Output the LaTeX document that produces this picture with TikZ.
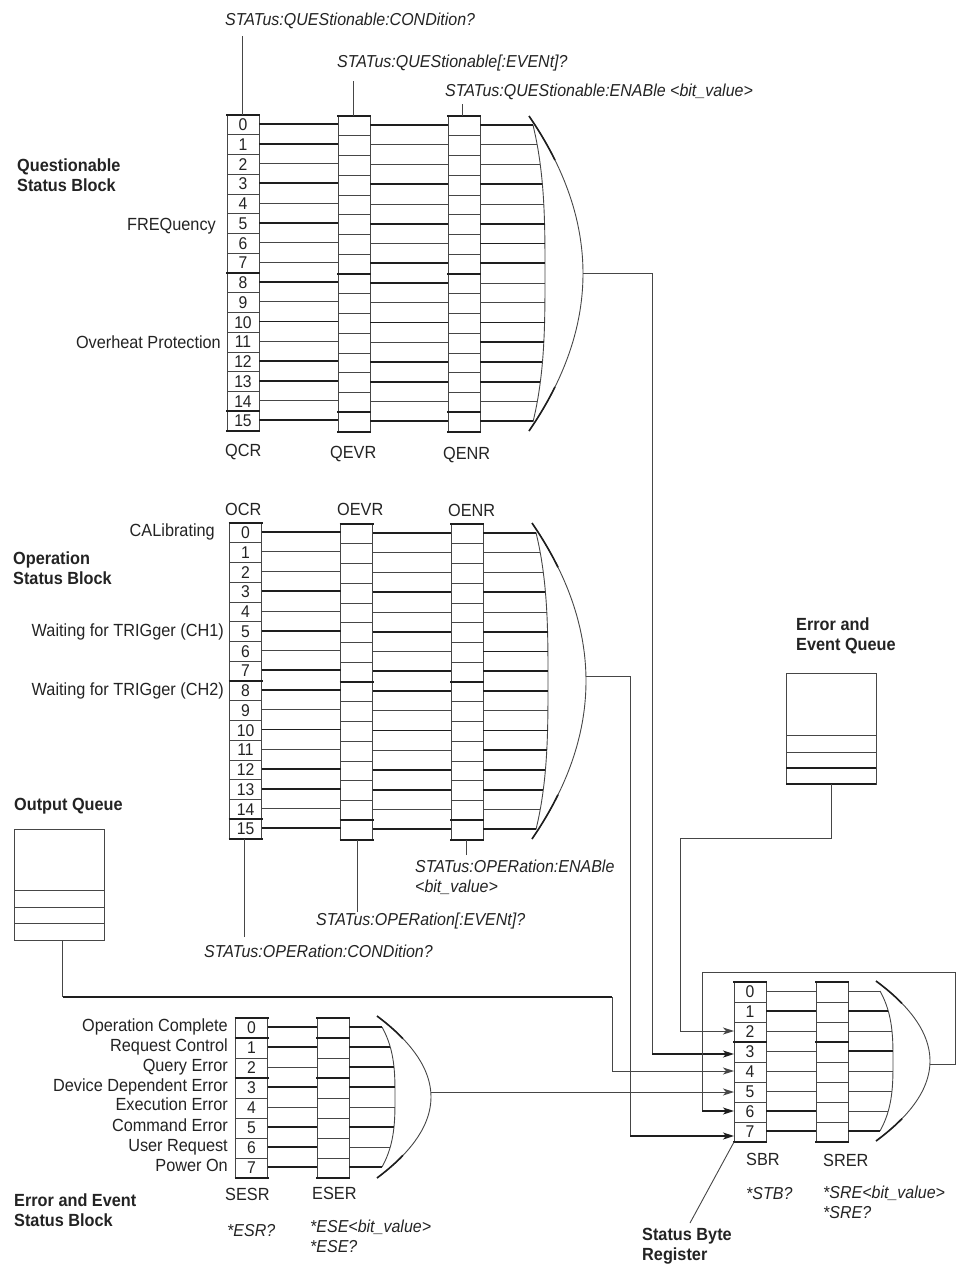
\documentclass[tikz,border=0pt]{standalone}
\usepackage{fontspec}
\setmainfont[FakeStretch=0.925]{Liberation Sans}
\usetikzlibrary{arrows.meta,positioning}
\definecolor{wireGray}{RGB}{70,70,70}
\definecolor{wireDark}{RGB}{30,30,30}
\definecolor{textDark}{RGB}{35,35,35}
\tikzset{
  bit/.style={draw=wireGray, line width=0.9pt, minimum width=32pt, inner sep=0pt, outer sep=0pt,
    text=textDark, font=\fontsize{17}{20}\selectfont},
  slot/.style={draw=wireGray, line width=0.9pt, minimum width=90pt, inner sep=0pt, outer sep=0pt},
  wire/.style={wireGray, line width=0.9pt},
  wirethick/.style={wireDark, line width=1.6pt},
  tip/.style={-{Stealth[length=11pt,width=7pt,inset=3pt]}},
  lbl/.style={inner sep=0pt, align=left, text=textDark, font=\fontsize{17.6}{20}\selectfont},
  cmd/.style={lbl, font=\fontsize{17.3}{20}\selectfont\itshape},
  blk/.style={lbl, font=\fontsize{17.6}{20}\selectfont\bfseries}
}
% column of register cells
\newcommand{\regcol}[6]{%
  \foreach \i in {0,...,#4}
    \node[bit, minimum height=#5pt] (#1\i) at (#2,{#3+#5*(\i+0.5)}) {#6};
}
% heavy cell borders: top of the first cell, bottom of the listed ones
\newcommand{\bars}[2]{%
  \draw[wirethick] ([xshift=-1pt]#10.north west) -- ([xshift=1pt]#10.north east);
  \foreach \i in {#2}
    \draw[wirethick] ([xshift=-1pt]#1\i.south west) -- ([xshift=1pt]#1\i.south east);
}
% wires between two columns, thin first, then the heavy ones over them
\newcommand{\wires}[5]{%
  \foreach \i in {0,...,#4}
    \draw[wire] ([yshift=0.9pt]#1\i.east) -- ([yshift=0.9pt]#1\i.east -| #2\i#3);
  \foreach \i in {#5}
    \draw[wirethick] ([yshift=0.9pt]#1\i.east) -- ([yshift=0.9pt]#1\i.east -| #2\i#3);
}
% gate: name, last row, mid y, back half height, back apex, back sag, front half height, front apex
\newcommand{\orgate}[8]{%
  \foreach \i in {0,...,#2}
    \coordinate (#1\i) at ({#5-#6*abs(2*\i/#2-1)*(2*\i/#2-1)*(2*\i/#2-1)},{#3+#4*(2*\i/#2-1)});
  \draw[wire] plot[smooth,domain=-1:1,samples=25] ({#5-#6*abs(\x)*\x*\x},{#3+#4*\x});
  \draw[wire] plot[smooth,domain=-1:1,samples=25] ({#8-54*\x*\x},{#3+#7*\x});
  \draw[wirethick] plot[smooth,domain=-1:-0.72,samples=6] ({#8-54*\x*\x},{#3+#7*\x});
  \draw[wirethick] plot[smooth,domain=0.72:1,samples=6] ({#8-54*\x*\x},{#3+#7*\x});
}
\begin{document}
\begin{tikzpicture}[x=1pt,y=-1pt]
  \useasboundingbox (0,0) rectangle (959,1264);
  % Questionable status block
  \regcol{qcr}{243}{115}{15}{19.75}{\i}
  \regcol{qevr}{354}{116}{15}{19.75}{}
  \regcol{qenr}{464}{116}{15}{19.75}{}
  \bars{qcr}{7,14,15}
  \bars{qevr}{7,14,15}
  \bars{qenr}{7,14,15}
  \orgate{qg}{15}{273.5}{148.5}{545}{12}{157.5}{583}
  \wires{qcr}{qevr}{.west}{15}{0,1,3,5,8,10,12,13,15}
  \wires{qevr}{qenr}{.west}{15}{0,3,5,7,8,10,12,13,15}
  \wires{qenr}{qg}{}{15}{0,3,5,6,7,10,11,12,13,15}
  % Operation status block
  \regcol{ocr}{245.5}{523}{15}{19.75}{\i}
  \regcol{oevr}{356.5}{524}{15}{19.75}{}
  \regcol{oenr}{467}{524}{15}{19.75}{}
  \bars{ocr}{7,14,15}
  \bars{oevr}{7,14,15}
  \bars{oenr}{7,14,15}
  \orgate{og}{15}{681}{148.5}{548}{12}{158}{586}
  \wires{ocr}{oevr}{.west}{15}{0,3,5,7,8,10,12,13,15}
  \wires{oevr}{oenr}{.west}{15}{0,3,5,7,8,10,12,13,15}
  \wires{oenr}{og}{}{15}{0,3,5,6,7,8,10,11,12,13,15}
  % Error and event status block
  \regcol{sesr}{251.5}{1018}{7}{20}{\i}
  \regcol{eser}{333}{1018}{7}{20}{}
  \bars{sesr}{0,2,7}
  \bars{eser}{0,2,7}
  \orgate{eg}{7}{1097}{70}{395}{13}{81}{431}
  \wires{sesr}{eser}{.west}{7}{0,1,3,5,6,7}
  \wires{eser}{eg}{}{7}{0,1,2,3,5,7}
  % Status byte register
  \regcol{sbr}{750}{982}{7}{20}{\i}
  \regcol{srer}{832}{982}{7}{20}{}
  \bars{sbr}{2,7}
  \bars{srer}{2,7}
  \orgate{sg}{7}{1061}{70}{893}{13}{80}{930}
  \wires{sbr}{srer}{.west}{7}{1,6,7}
  \wires{srer}{sg}{}{7}{1,3,7}
  % Queues
  \node[slot, minimum height=61pt] (oqtop) at (59,859.5) {};
  \node[slot, minimum height=17pt, below=0pt of oqtop] (oq0) {};
  \node[slot, minimum height=16.5pt, below=0pt of oq0] (oq1) {};
  \node[slot, minimum height=16.5pt, below=0pt of oq1] (oq2) {};
  \node[slot, minimum height=62pt] (eqtop) at (831,704) {};
  \node[slot, minimum height=17pt, below=0pt of eqtop] (eq0) {};
  \node[slot, minimum height=16pt, below=0pt of eq0] (eq1) {};
  \node[slot, minimum height=16pt, below=0pt of eq1] (eq2) {};
  \draw[wirethick] (eq1.south west) -- (eq1.south east);
  \draw[wirethick] (eq2.south west) -- (eq2.south east);
  % Summary lines into the status byte register
  \coordinate (qout) at (583,273);
  \coordinate (qbend) at (652,273);
  \coordinate (qin) at (652,1054);
  \draw[wire] (qout) -- (qbend) -- (qin);
  \draw[wirethick, tip] (qin) -- (qin -| sbr3.west);
  \coordinate (oout) at (585.5,676);
  \coordinate (obend) at (630,676);
  \coordinate (oin) at (630,1136);
  \draw[wire] (oout) -- (obend) -- (oin);
  \draw[wirethick, tip] (oin) -- (oin -| sbr7.west);
  \coordinate (oqa) at (62.5,997);
  \coordinate (oqb) at (612,997);
  \coordinate (oqc) at (612,1071);
  \draw[wire] (oq2.south -| oqa) -- (oqa);
  \draw[wirethick] (oqa) -- (oqb);
  \draw[wire] (oqb) -- (oqc);
  \draw[wire, tip] (oqc) -- (oqc -| sbr4.west);
  \coordinate (eqa) at (831,838);
  \coordinate (eqb) at (680,838);
  \coordinate (eqc) at (680,1031);
  \draw[wire] (eq2.south -| eqa) -- (eqa) -- (eqb) -- (eqc);
  \draw[wire, tip] (eqc) -- (eqc -| sbr2.west);
  \coordinate (eout) at (431,1092);
  \draw[wire, tip] (eout) -- (eout -| sbr5.west);
  \coordinate (sout) at (930,1064);
  \coordinate (sa) at (955.5,1064);
  \coordinate (sb) at (955.5,972);
  \coordinate (sc) at (702,972);
  \coordinate (sd) at (702,1111);
  \draw[wire] (sout) -- (sa) -- (sb) -- (sc) -- (sd);
  \draw[wirethick, tip] (sd) -- (sd -| sbr6.west);
  % Command labels
  \node[cmd, anchor=base west] (qcrcmd) at (225,25) {STATus:QUEStionable:CONDition?};
  \node[cmd, anchor=base west] (qevrcmd) at (337,67.7) {STATus:QUEStionable[:EVENt]?};
  \node[cmd, anchor=base west] (qenrcmd) at (445,96) {STATus:QUEStionable:ENABle <bit\_value>};
  \node[cmd, anchor=west] (oenrcmd) at (415,877) {STATus:OPERation:ENABle\\<bit\_value>};
  \node[cmd, anchor=base west] (oevrcmd) at (316,925) {STATus:OPERation[:EVENt]?};
  \node[cmd, anchor=base west] (ocrcmd) at (204,957.7) {STATus:OPERation:CONDition?};
  \node[cmd, anchor=base west] (sesrcmd) at (227,1236.7) {*ESR?};
  \node[cmd, anchor=west] (esercmd) at (310,1236.5) {*ESE<bit\_value>\\*ESE?};
  \node[cmd, anchor=base west] (sbrcmd) at (746,1199.3) {*STB?};
  \node[cmd, anchor=west] (srercmd) at (823,1202) {*SRE<bit\_value>\\*SRE?};
  % Stems to the command labels
  \coordinate (qcrstem) at (242,36);
  \coordinate (qevrstem) at (353.5,81);
  \coordinate (qenrstem) at (462,104);
  \coordinate (ocrstem) at (244,937);
  \coordinate (oevrstem) at (357,912);
  \coordinate (oenrstem) at (466,855);
  \coordinate (sbrstem) at (690,1223);
  \draw[wire] (qcrstem) -- (qcrstem |- qcr0.north);
  \draw[wire] (qevrstem) -- (qevrstem |- qevr0.north);
  \draw[wire] (qenrstem) -- (qenrstem |- qenr0.north);
  \draw[wire] (ocrstem) -- (ocrstem |- ocr15.south);
  \draw[wire] (oevrstem) -- (oevrstem |- oevr15.south);
  \draw[wire] (oenrstem) -- (oenrstem |- oenr15.south);
  \draw[wire] (sbrstem) -- (sbr7.south west);
  % Register names
  \node[lbl, anchor=base west] (qcrname) at (225,456.7) {QCR};
  \node[lbl, anchor=base west] (qevrname) at (330,458) {QEVR};
  \node[lbl, anchor=base west] (qenrname) at (443,459.3) {QENR};
  \node[lbl, anchor=base west] (ocrname) at (225,515) {OCR};
  \node[lbl, anchor=base west] (oevrname) at (337,515) {OEVR};
  \node[lbl, anchor=base west] (oenrname) at (448,516) {OENR};
  \node[lbl, anchor=base west] (sesrname) at (225,1200.7) {SESR};
  \node[lbl, anchor=base west] (esername) at (312,1199) {ESER};
  \node[lbl, anchor=base west] (sbrname) at (746,1165) {SBR};
  \node[lbl, anchor=base west] (srername) at (823,1166) {SRER};
  % Bit names
  \node[lbl, anchor=base east] (freq) at (216,230) {FREQuency};
  \node[lbl, anchor=base east] (heat) at (221,348.3) {Overheat Protection};
  \node[lbl, anchor=base east] (cal) at (215,536.7) {CALibrating};
  \node[lbl, anchor=base east] (trig1) at (224,636.7) {Waiting for TRIGger (CH1)};
  \node[lbl, anchor=base east] (trig2) at (224,695) {Waiting for TRIGger (CH2)};
  \node[lbl, anchor=base east] (esr0) at (228,1031.7) {Operation Complete};
  \node[lbl, anchor=base east] (esr1) at (228,1051.7) {Request Control};
  \node[lbl, anchor=base east] (esr2) at (228,1071) {Query Error};
  \node[lbl, anchor=base east] (esr3) at (228,1091.7) {Device Dependent Error};
  \node[lbl, anchor=base east] (esr4) at (228,1110.7) {Execution Error};
  \node[lbl, anchor=base east] (esr5) at (228,1131) {Command Error};
  \node[lbl, anchor=base east] (esr6) at (228,1151.7) {User Request};
  \node[lbl, anchor=base east] (esr7) at (228,1171.7) {Power On};
  % Block titles
  \node[blk, anchor=west] (qblock) at (17,175.5) {Questionable\\Status Block};
  \node[blk, anchor=west] (oblock) at (13,568.5) {Operation\\Status Block};
  \node[blk, anchor=base west] (oqname) at (14,810) {Output Queue};
  \node[blk, anchor=west] (eqname) at (796,636) {Error and\\Event Queue};
  \node[blk, anchor=west] (eblock) at (14,1210) {Error and Event\\Status Block};
  \node[blk, anchor=west] (sbname) at (642,1246.7) {Status Byte\\Register};
\end{tikzpicture}
\end{document}
